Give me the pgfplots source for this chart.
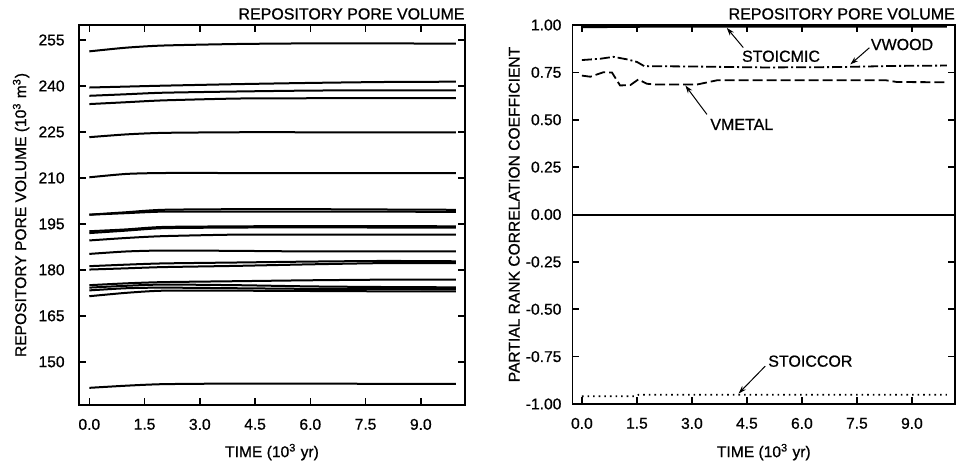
\documentclass[border=0pt]{standalone}
\usepackage{fontspec}
\setmainfont{Liberation Sans}[FakeBold=0.8]
\usepackage{pgfplots}
\usepackage{pgfplotstable}
\pgfplotsset{compat=1.18}
\usetikzlibrary{arrows.meta}

\newcommand{\lbl}{\fontsize{7.8}{9}\selectfont}
\newcommand{\ttl}{\fontsize{8}{9}\selectfont}

\pgfplotstableread{
t     a1    a2    a3    a4    a5    a6    a7    a8    a9    a10   a11   a12   a13   a14   a15   a16   a17   a18   a19
0     251.3 239.5 236.8 234.1 223.3 210.2 198.0 198.0 192.6 192.0 189.6 185.2 181.2 180.1 175.0 174.2 173.3 171.4 141.5
1     252.5 239.8 237.3 234.7 224.2 211.3 198.8 198.5 193.2 192.8 190.4 186.0 181.7 180.5 175.6 174.8 174.0 172.5 142.2
2     253.2 240.1 237.8 235.3 224.7 211.6 199.6 199.0 194.0 193.6 191.0 186.3 182.1 180.9 176.0 175.2 174.2 173.2 142.7
4     253.7 240.6 238.2 235.9 224.9 211.6 199.8 199.0 194.2 193.8 191.5 186.2 182.4 181.3 176.3 175.0 174.0 173.2 142.9
6     253.9 241.0 238.5 236.0 224.9 211.6 199.8 199.0 194.3 193.9 191.5 186.0 182.7 181.8 176.6 174.6 173.8 173.1 142.9
8     253.9 241.3 238.6 236.0 224.9 211.6 199.7 199.0 194.3 193.8 191.5 186.0 182.9 182.2 176.8 174.4 173.8 173.0 142.8
9.95  253.8 241.4 238.6 236.0 224.9 211.6 199.6 198.9 194.2 193.8 191.5 186.0 182.8 182.2 176.8 174.3 173.7 173.0 142.8
}\poreData

\pgfplotsset{
  myax/.style={
    scale only axis,
    clip=false,
    axis line style={line width=0.8pt},
    tick style={line width=0.8pt, black},
    major tick length=3.5pt,
    tick align=inside,
    xtick={0,1.5,3,4.5,6,7.5,9},
    xticklabels={0.0,1.5,3.0,4.5,6.0,7.5,9.0},
    tick label style={font=\lbl},
    label style={font=\lbl},
    xticklabel style={anchor=north, inner sep=0pt, yshift=-6.75pt},
    xlabel={TIME (10\textsuperscript{3} yr)},
  }
}

\begin{document}
\begin{tikzpicture}
\path[use as bounding box] (0,0) rectangle (480pt,231pt);

% Left panel
\begin{axis}[myax,
  at={(39.5pt,28.5pt)}, anchor=south west,
  width=193pt, height=190pt,
  xmin=-0.28, xmax=10.2, ymin=135.9, ymax=259.9,
  ytick={150,165,180,195,210,225,240,255},
  yticklabels={150,165,180,195,210,225,240,255},
  yticklabel style={anchor=east, inner sep=0pt, xshift=-7pt},
  xlabel style={at={(axis description cs:0.5,-0.124)}, anchor=center},
  ylabel={REPOSITORY PORE VOLUME (10\textsuperscript{3} m\textsuperscript{3})},
  ylabel style={at={(axis description cs:-0.150,0.5)}, anchor=center},
]
\pgfplotsinvokeforeach{1,...,19}{
  \addplot[black, line width=1pt, smooth, tension=0.4] table[x=t, y=a#1] {\poreData};
}
\node[font=\ttl, anchor=south east, inner sep=0pt] at (rel axis cs:1,1) [yshift=2.5pt] {REPOSITORY PORE VOLUME};
\end{axis}

% Right panel
\begin{axis}[myax,
  at={(286.2pt,29pt)}, anchor=south west,
  width=191.4pt, height=189.5pt,
  xmin=-0.26, xmax=10.18, ymin=-1, ymax=1.0,
  ytick={-1,-0.75,-0.5,-0.25,0,0.25,0.5,0.75,1},
  yticklabels={-1.00,-0.75,-0.50,-0.25,0.00,0.25,0.50,0.75,1.00},
  yticklabel style={anchor=east, inner sep=0pt, xshift=-5.3pt},
  xlabel style={at={(axis description cs:0.5,-0.127)}, anchor=center},
  ylabel={PARTIAL RANK CORRELATION COEFFICIENT},
  ylabel style={at={(axis description cs:-0.152,0.5)}, anchor=center},
]
% zero line
\addplot[black, line width=1pt] coordinates {(-0.26,0) (10.18,0)};
% STOICMIC
\addplot[black, line width=1.3pt] coordinates {(0,0.990) (2,0.993) (9.95,0.993)};
% VWOOD
\addplot[black, line width=0.9pt, dash pattern=on 5pt off 1.5pt on 1pt off 1.5pt] coordinates {
 (0,0.815) (0.5,0.822) (0.86,0.832) (1.25,0.818) (1.5,0.805) (1.7,0.783) (3,0.781) (5,0.776) (7,0.778) (8.5,0.784) (9.95,0.786)};
% VMETAL
\addplot[black, line width=0.9pt, dash pattern=on 5pt off 2pt] coordinates {
 (0,0.733) (0.23,0.727) (0.59,0.751) (0.82,0.749) (1.04,0.681) (1.32,0.683) (1.54,0.713) (1.77,0.690) (2.0,0.686) (3.14,0.686) (3.68,0.708) (8.3,0.708) (8.6,0.699) (9.95,0.698)};
% STOICCOR
\addplot[black, line width=0.9pt, dash pattern=on 0.8pt off 2pt] coordinates {
 (0,-0.959) (1.45,-0.959) (1.55,-0.951) (9.95,-0.951)};

\draw[-{Stealth[length=4pt,width=2.6pt]}, line width=0.5pt] (axis cs:4.40,0.881) -- (axis cs:3.95,0.985);
\node[font=\ttl] at (axis cs:5.43,0.835) {STOICMIC};
\draw[-{Stealth[length=4pt,width=2.6pt]}, line width=0.5pt] (axis cs:7.84,0.880) -- (axis cs:7.32,0.792);
\node[font=\ttl] at (axis cs:8.73,0.897) {VWOOD};
\draw[-{Stealth[length=4pt,width=2.6pt]}, line width=0.5pt] (axis cs:3.41,0.528) -- (axis cs:2.82,0.681);
\node[font=\ttl] at (axis cs:4.36,0.475) {VMETAL};
\draw[-{Stealth[length=4pt,width=2.6pt]}, line width=0.5pt] (axis cs:5.0,-0.80) -- (axis cs:4.27,-0.945);
\node[font=\ttl] at (axis cs:6.23,-0.774) {STOICCOR};

\node[font=\ttl, anchor=south east, inner sep=0pt] at (rel axis cs:1,1) [yshift=2.5pt] {REPOSITORY PORE VOLUME};
\end{axis}
\end{tikzpicture}
\end{document}
